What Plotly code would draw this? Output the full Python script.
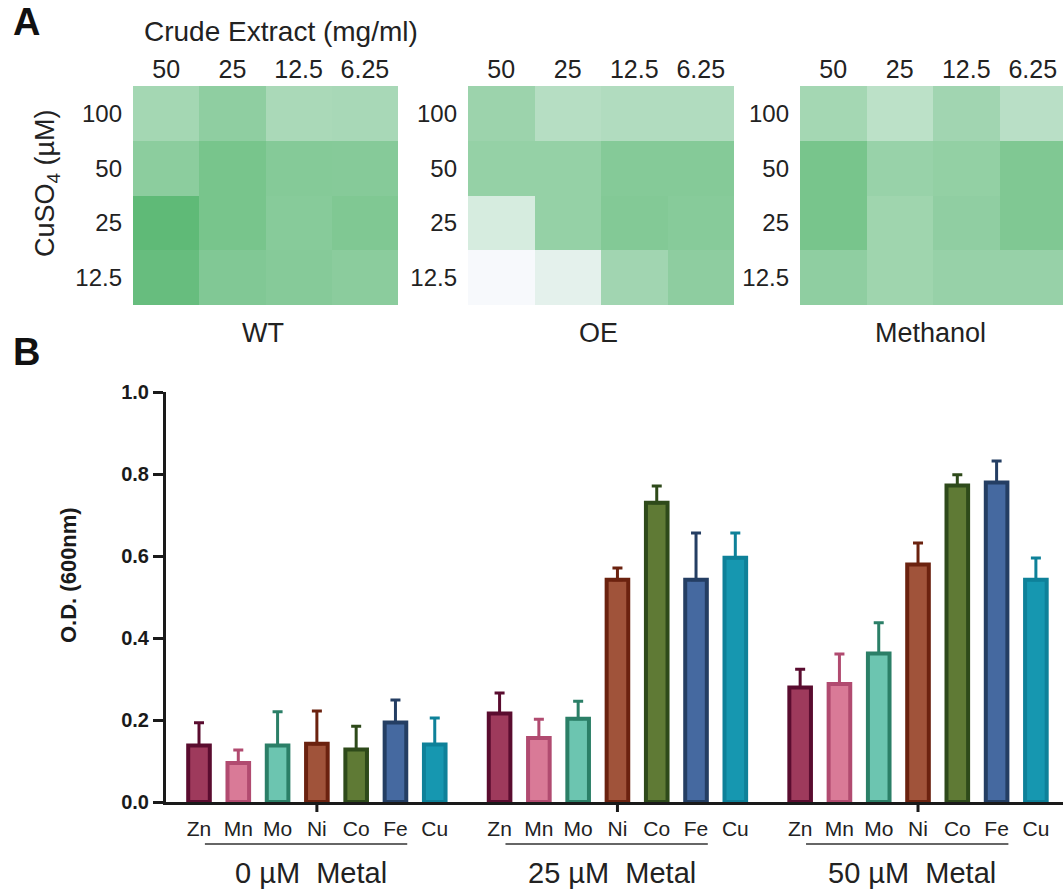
import plotly.graph_objects as go

# ---------------- Data ----------------
# Panel A heatmaps (relative growth intensity, 0 = none, 1 = max)
extract_conc = ['50', '25', '12.5', '6.25']          # Crude extract (mg/ml)
cuso4_conc = ['100', '50', '25', '12.5']             # CuSO4 (µM), top to bottom
wt_values = [[0.535, 0.67, 0.50, 0.51],
             [0.69, 0.82, 0.735, 0.73],
             [0.98, 0.82, 0.72, 0.77],
             [0.93, 0.76, 0.73, 0.70]]
oe_values = [[0.59, 0.42, 0.45, 0.45],
             [0.63, 0.63, 0.735, 0.735],
             [0.21, 0.63, 0.75, 0.72],
             [0.0, 0.12, 0.555, 0.68]]
methanol_values = [[0.535, 0.38, 0.555, 0.40],
                   [0.82, 0.61, 0.645, 0.77],
                   [0.82, 0.57, 0.665, 0.77],
                   [0.67, 0.57, 0.62, 0.62]]
heatmap_names = ['WT', 'OE', 'Methanol']

# Panel B bars
metals = ['Zn', 'Mn', 'Mo', 'Ni', 'Co', 'Fe', 'Cu']
metal_groups = ['0 µM  Metal', '25 µM  Metal', '50 µM  Metal']
od_0uM = [0.138, 0.095, 0.138, 0.142, 0.128, 0.194, 0.140]
od_25uM = [0.216, 0.156, 0.203, 0.542, 0.730, 0.542, 0.596]
od_50uM = [0.279, 0.288, 0.362, 0.579, 0.772, 0.779, 0.542]
err_0uM = [0.055, 0.032, 0.082, 0.080, 0.057, 0.055, 0.065]
err_25uM = [0.050, 0.046, 0.043, 0.029, 0.041, 0.114, 0.060]
err_50uM = [0.045, 0.073, 0.075, 0.053, 0.026, 0.053, 0.053]

fill_colors = ['#9e3a5c', '#d97a97', '#6cc5b0', '#a0533a', '#5f7a35', '#4569a0', '#1697b0']
edge_colors = ['#5a0c2f', '#b14b70', '#2b7f67', '#6b220f', '#2e4a1a', '#243e63', '#0e8199']

# ---------------- Figure ----------------
W, H = 1063, 896
def px(x):
    return x / W
def py(y):
    return 1 - y / H

fig = go.Figure()
FONT = 'Arial, Liberation Sans, sans-serif'
TXT = '#222222'

heat_domains = [(133, 398), (468, 734), (800, 1066)]
heat_vals = [wt_values, oe_values, methanol_values]
colorscale = [[0, '#f7f9fc'], [1, '#5cb974']]

for k, (vals, (x0, x1)) in enumerate(zip(heat_vals, heat_domains)):
    n = k + 2
    fig.add_trace(go.Heatmap(z=vals, x=extract_conc, y=cuso4_conc, colorscale=colorscale,
                             zmin=0, zmax=1, showscale=False,
                             xaxis='x%d' % n, yaxis='y%d' % n))
    fig.update_layout(**{
        'xaxis%d' % n: dict(domain=[px(x0), min(1.0, px(x1))], anchor='y%d' % n, side='top', type='category',
                            range=[-0.5, 3.5 - (x1 - min(x1, W)) / ((x1 - x0) / 4)],
                            showgrid=False, zeroline=False, showline=False, ticks='',
                            ticklabelstandoff=2, automargin=False,
                            tickfont=dict(family=FONT, size=25, color=TXT)),
        'yaxis%d' % n: dict(domain=[py(305), py(86)], anchor='x%d' % n, type='category',
                            autorange='reversed', showgrid=False, zeroline=False, showline=False,
                            ticks='', ticklabelstandoff=10, automargin=False,
                            tickfont=dict(family=FONT, size=24, color=TXT)),
    })
    fig.add_annotation(text=heatmap_names[k], x=px((x0 + x1) / 2 - 3), y=py(333), xref='paper', yref='paper',
                       showarrow=False, font=dict(family=FONT, size=27, color=TXT),
                       xanchor='center', yanchor='middle')

# Bars
group_gap = 0.65
step = len(metals) + group_gap
values_by_group = [od_0uM, od_25uM, od_50uM]
errors_by_group = [err_0uM, err_25uM, err_50uM]
for i, m in enumerate(metals):
    xs = [g * step + i for g in range(len(metal_groups))]
    ys = [values_by_group[g][i] for g in range(len(metal_groups))]
    es = [errors_by_group[g][i] for g in range(len(metal_groups))]
    fig.add_trace(go.Bar(x=xs, y=ys, width=0.55, name=m,
                         marker=dict(color=fill_colors[i], line=dict(color=edge_colors[i], width=4)),
                         error_y=dict(type='data', array=es, arrayminus=[0] * len(es), symmetric=False,
                                      color=edge_colors[i], thickness=3, width=5),
                         xaxis='x', yaxis='y', showlegend=False))

tick_x = [g * step + i for g in range(len(metal_groups)) for i in range(len(metals))]
tick_t = [metals[i] for g in range(len(metal_groups)) for i in range(len(metals))]

fig.update_layout(
    xaxis=dict(domain=[px(166), 1.0], anchor='y', range=[-0.84, 2 * step + 6 + 0.69],
               showgrid=False, zeroline=False, showline=True, linecolor='#1a1a1a', linewidth=3,
               tickmode='array', tickvals=tick_x, ticktext=tick_t, ticks='', ticklabelstandoff=6,
               automargin=False,
               tickfont=dict(family=FONT, size=21, color=TXT)),
    yaxis=dict(domain=[py(802), py(392)], anchor='x', range=[0, 1.0],
               showgrid=False, zeroline=False, showline=True, linecolor='#1a1a1a', linewidth=3,
               ticks='outside', ticklen=10, tickwidth=3, tickcolor='#1a1a1a', automargin=False,
               tickmode='array', tickvals=[0, 0.2, 0.4, 0.6, 0.8, 1.0],
               ticktext=['0.0', '0.2', '0.4', '0.6', '0.8', '1.0'],
               tickfont=dict(family=FONT, size=20, color='#1a1a1a', weight='bold')),
    barmode='overlay',
)

bot = py(802)
for g, label in enumerate(metal_groups):
    # center tick below Ni
    fig.add_shape(type='line', xref='x', yref='paper', x0=g * step + 3, x1=g * step + 3,
                  y0=bot, y1=bot - 10 / H, line=dict(color='#1a1a1a', width=3))
    # underline below metal names
    fig.add_shape(type='line', xref='x', yref='paper', x0=g * step + 0.15, x1=g * step + 5.3,
                  y0=py(844), y1=py(844), line=dict(color='#333333', width=1.5))
    fig.add_annotation(text=label, x=g * step + 2.85, y=py(873), xref='x', yref='paper',
                       showarrow=False, font=dict(family=FONT, size=29, color=TXT),
                       xanchor='center', yanchor='middle')

# Panel labels and axis titles
fig.add_annotation(text='<b>A</b>', x=px(26), y=py(22), xref='paper', yref='paper', showarrow=False,
                   font=dict(family=FONT, size=38, color='#111111'), xanchor='center', yanchor='middle')
fig.add_annotation(text='<b>B</b>', x=px(26), y=py(352), xref='paper', yref='paper', showarrow=False,
                   font=dict(family=FONT, size=38, color='#111111'), xanchor='center', yanchor='middle')
fig.add_annotation(text='Crude Extract (mg/ml)', x=px(281), y=py(31), xref='paper', yref='paper',
                   showarrow=False, font=dict(family=FONT, size=28, color=TXT),
                   xanchor='center', yanchor='middle')
fig.add_annotation(text='CuSO<sub>4</sub> (µM)', x=px(47), y=py(183), xref='paper', yref='paper',
                   showarrow=False, textangle=-90, font=dict(family=FONT, size=27, color=TXT),
                   xanchor='center', yanchor='middle')
fig.add_annotation(text='<b>O.D. (600nm)</b>', x=px(68), y=py(575), xref='paper', yref='paper',
                   showarrow=False, textangle=-90, font=dict(family=FONT, size=22, color='#1a1a1a'),
                   xanchor='center', yanchor='middle')

fig.update_layout(width=W, height=H, margin=dict(l=0, r=0, t=0, b=0, autoexpand=False),
                  paper_bgcolor='white', plot_bgcolor='white', showlegend=False)

fig.write_html('out.html', config={'displayModeBar': False},
               post_script="document.body.style.margin='0';document.body.style.overflow='hidden';")
